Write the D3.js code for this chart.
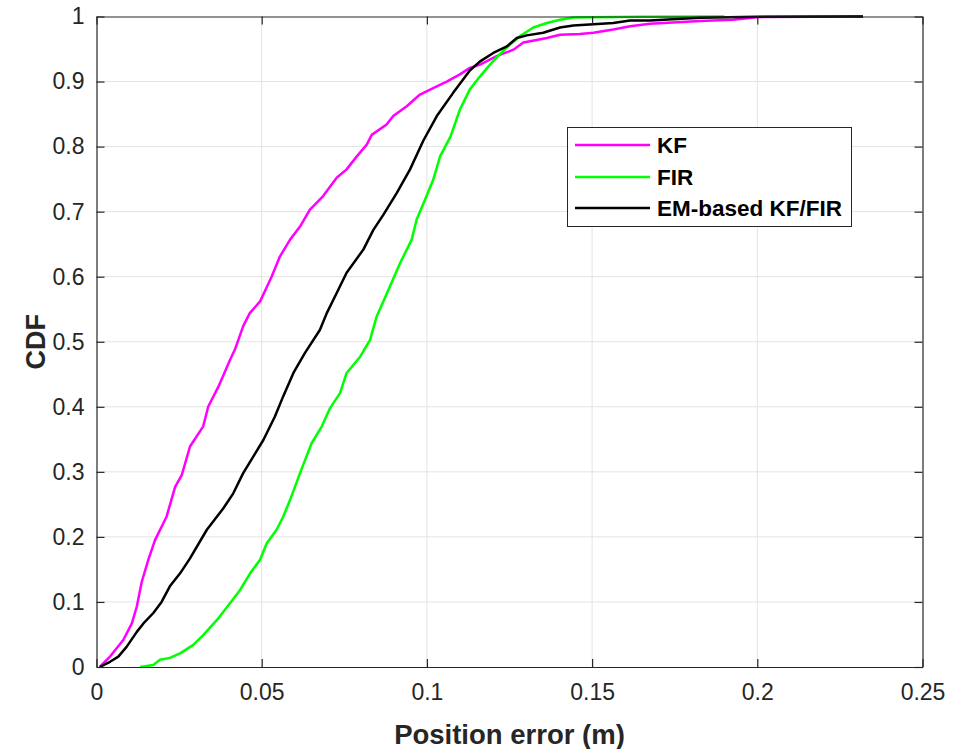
<!DOCTYPE html>
<html><head><meta charset="utf-8">
<script src="https://cdn.jsdelivr.net/npm/d3@7"></script>
<style>
body{margin:0;background:#fff;}
text{font-family:"Liberation Sans",Arial,Helvetica,sans-serif;}
</style></head>
<body><svg id="c" width="953" height="749"></svg>
<script>
// ---- data ----
const xTicks = [0, 0.05, 0.1, 0.15, 0.2, 0.25];
const xTickLabels = ["0", "0.05", "0.1", "0.15", "0.2", "0.25"];
const yTicks = [0, 0.1, 0.2, 0.3, 0.4, 0.5, 0.6, 0.7, 0.8, 0.9, 1];
const yTickLabels = ["0", "0.1", "0.2", "0.3", "0.4", "0.5", "0.6", "0.7", "0.8", "0.9", "1"];
const seriesNames = ["KF", "FIR", "EM-based KF/FIR"];

const kfX = [0.001, 0.0041, 0.0081, 0.0107, 0.0122, 0.0137, 0.0157, 0.0177, 0.0212, 0.0238, 0.0258, 0.0283, 0.0323, 0.0338, 0.0369, 0.0404, 0.0419, 0.0444, 0.0464, 0.0495, 0.0530, 0.0555, 0.0586, 0.0616, 0.0646, 0.0686, 0.0727, 0.0757, 0.0788, 0.0818, 0.0833, 0.0878, 0.0898, 0.0939, 0.0979, 0.1019, 0.1060, 0.1100, 0.1130, 0.1161, 0.1211, 0.1262, 0.1292, 0.1332, 0.1363, 0.1403, 0.1463, 0.1504, 0.1564, 0.1615, 0.1675, 0.1827, 0.1927, 0.1998, 0.232];
const kfY = [0, 0.016, 0.0415, 0.067, 0.093, 0.131, 0.165, 0.195, 0.231, 0.277, 0.295, 0.339, 0.370, 0.400, 0.431, 0.472, 0.488, 0.524, 0.544, 0.562, 0.600, 0.631, 0.657, 0.677, 0.703, 0.724, 0.752, 0.765, 0.785, 0.803, 0.818, 0.834, 0.847, 0.862, 0.880, 0.890, 0.900, 0.911, 0.921, 0.926, 0.939, 0.949, 0.960, 0.964, 0.967, 0.972, 0.973, 0.975, 0.980, 0.985, 0.989, 0.993, 0.995, 0.999, 1];

const firX = [0.0132, 0.0172, 0.0192, 0.0222, 0.0253, 0.0293, 0.0323, 0.0364, 0.0404, 0.0434, 0.0465, 0.0495, 0.0515, 0.0545, 0.0565, 0.0586, 0.0616, 0.0651, 0.0682, 0.0707, 0.0737, 0.0757, 0.0798, 0.0828, 0.0848, 0.0888, 0.0919, 0.0954, 0.0969, 0.0999, 0.1019, 0.1040, 0.1072, 0.1100, 0.1130, 0.1161, 0.1191, 0.1221, 0.1252, 0.1282, 0.1322, 0.1363, 0.1403, 0.1443, 0.150, 0.165, 0.19];
const firY = [0, 0.003, 0.011, 0.014, 0.021, 0.034, 0.049, 0.072, 0.098, 0.118, 0.144, 0.165, 0.190, 0.211, 0.231, 0.257, 0.298, 0.344, 0.370, 0.398, 0.421, 0.452, 0.477, 0.503, 0.539, 0.585, 0.621, 0.657, 0.688, 0.724, 0.749, 0.785, 0.816, 0.857, 0.888, 0.908, 0.926, 0.942, 0.957, 0.970, 0.983, 0.990, 0.995, 0.9985, 0.999, 0.9995, 1];

const emX = [0.001, 0.0041, 0.0066, 0.0091, 0.0122, 0.0142, 0.0172, 0.0197, 0.0222, 0.0253, 0.0283, 0.0334, 0.0384, 0.0414, 0.0444, 0.0505, 0.0540, 0.0565, 0.0596, 0.0631, 0.0676, 0.0697, 0.0727, 0.0757, 0.0808, 0.0838, 0.0868, 0.0909, 0.0949, 0.0989, 0.1030, 0.1080, 0.1130, 0.1161, 0.1201, 0.1242, 0.1272, 0.1302, 0.1352, 0.1403, 0.1443, 0.1504, 0.1564, 0.1615, 0.1675, 0.1827, 0.2000, 0.232];
const emY = [0, 0.008, 0.016, 0.031, 0.054, 0.067, 0.083, 0.100, 0.124, 0.144, 0.167, 0.211, 0.244, 0.267, 0.298, 0.349, 0.385, 0.416, 0.452, 0.483, 0.518, 0.544, 0.575, 0.606, 0.642, 0.672, 0.695, 0.729, 0.765, 0.809, 0.847, 0.883, 0.917, 0.931, 0.944, 0.954, 0.967, 0.971, 0.975, 0.983, 0.986, 0.988, 0.990, 0.994, 0.994, 0.998, 0.9995, 1];

const colors = ["#ff00ff", "#00ff00", "#000000"];

// ---- layout ----
const L = 96.5, R = 922.5, T = 16.5, B = 667;
const svg = d3.select("#c");
const x = d3.scaleLinear().domain([0, 0.25]).range([L, R]);
const y = d3.scaleLinear().domain([0, 1]).range([B, T]);
const axisColor = "#262626";
const gridColor = "#e3e3e3";

// grid
svg.append("g").selectAll("line").data(xTicks.slice(1, -1)).join("line")
  .attr("x1", d => x(d)).attr("x2", d => x(d)).attr("y1", T).attr("y2", B)
  .attr("stroke", gridColor).attr("stroke-width", 1);
svg.append("g").selectAll("line").data(yTicks.slice(1, -1)).join("line")
  .attr("y1", d => y(d)).attr("y2", d => y(d)).attr("x1", L).attr("x2", R)
  .attr("stroke", gridColor).attr("stroke-width", 1);

// curves
const series = [[kfX, kfY], [firX, firY], [emX, emY]];
const line = d3.line().x(d => x(d[0])).y(d => y(d[1])).curve(d3.curveLinear);
series.forEach((s, i) => {
  const pts = s[0].map((v, k) => [v, s[1][k]]);
  svg.append("path").datum(pts).attr("d", line)
    .attr("fill", "none").attr("stroke", colors[i]).attr("stroke-width", 2.5)
    .attr("stroke-linejoin", "round");
});

// axes (ticks inside)
const fmtX = (d) => xTickLabels[xTicks.indexOf(d)];
const fmtY = (d) => yTickLabels[yTicks.indexOf(d)];
const gx = svg.append("g").attr("transform", `translate(0,${B})`)
  .call(d3.axisBottom(x).tickValues(xTicks).tickFormat(fmtX).tickSizeInner(-8).tickSizeOuter(0).tickPadding(17));
const gy = svg.append("g").attr("transform", `translate(${L},0)`)
  .call(d3.axisLeft(y).tickValues(yTicks).tickFormat(fmtY).tickSizeInner(-8).tickSizeOuter(0).tickPadding(12));
const gxt = svg.append("g").attr("transform", `translate(0,${T})`)
  .call(d3.axisTop(x).tickValues(xTicks).tickFormat("").tickSizeInner(-8).tickSizeOuter(0));
const gyr = svg.append("g").attr("transform", `translate(${R},0)`)
  .call(d3.axisRight(y).tickValues(yTicks).tickFormat("").tickSizeInner(-8).tickSizeOuter(0));
[gx, gy, gxt, gyr].forEach(g => {
  g.selectAll("path").attr("stroke", axisColor).attr("stroke-width", 1.2);
  g.selectAll("line").attr("stroke", axisColor).attr("stroke-width", 1.2);
  g.selectAll("text").attr("fill", axisColor).style("font-size", "23px")
    .style("font-family", "'Liberation Sans', Arial, sans-serif");
});

// axis labels
svg.append("text").attr("x", (L + R) / 2).attr("y", 744).attr("text-anchor", "middle")
  .style("font-size", "27.5px").style("font-weight", "bold").attr("fill", axisColor)
  .text("Position error (m)");
svg.append("text").attr("transform", `translate(45,${(T + B) / 2}) rotate(-90)`)
  .attr("text-anchor", "middle")
  .style("font-size", "27px").style("font-weight", "bold").attr("fill", axisColor)
  .text("CDF");

// legend
const lg = svg.append("g");
lg.append("rect").attr("x", 567.5).attr("y", 127.5).attr("width", 284).attr("height", 99)
  .attr("fill", "#fff").attr("stroke", axisColor).attr("stroke-width", 1);
const ly = [145, 177, 208];
seriesNames.forEach((n, i) => {
  lg.append("line").attr("x1", 575).attr("x2", 650).attr("y1", ly[i]).attr("y2", ly[i])
    .attr("stroke", colors[i]).attr("stroke-width", 2.5);
  lg.append("text").attr("x", 657).attr("y", ly[i]).attr("dy", "0.36em")
    .style("font-size", "22.5px").style("font-weight", "bold").attr("fill", "#000").text(n);
});
</script></body></html>
